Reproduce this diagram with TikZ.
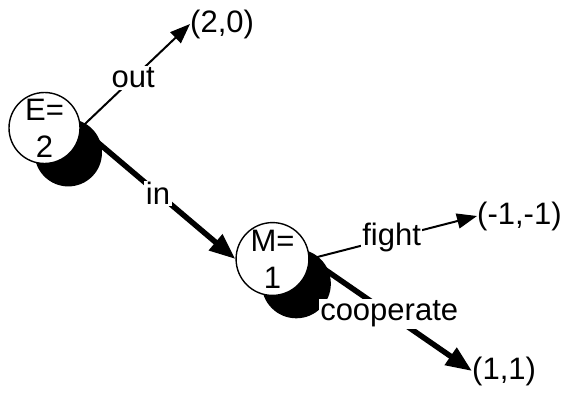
\documentclass[tikz,border=0pt]{standalone}
\usepackage{fontspec}
\setmainfont{Liberation Sans}
\usetikzlibrary{arrows.meta, positioning, shadows}
\pgfdeclarelayer{background}
\pgfsetlayers{background,main}
\tikzset{
  state/.style={circle, draw, line width=1.4pt, fill=white, minimum size=71pt, inner sep=0pt, align=center,
    drop shadow={shadow xshift=25pt, shadow yshift=-26pt, fill=black, opacity=1, shadow scale=0.95}},
  lbl/.style={fill=white, inner sep=1.5pt},
  payoff/.style={anchor=west, inner sep=0pt},
  thinmove/.style={line width=2pt, -{Triangle[length=20pt, width=15pt]}},
  thickmove/.style={line width=5.5pt, -{Triangle[length=26pt, width=20pt]}},
}

\begin{document}
\begin{tikzpicture}[x=1pt, y=-1pt, font=\fontsize{31}{37}\selectfont]
  \useasboundingbox (0,0) rectangle (567,393);
  % decision nodes
  \node[state] (E) at (44.5,128) {E=\\2};
  \node[state] (M) at (272.5,259) {M=\\1};
  % payoffs
  \node[payoff] (p20) at (190,24) {(2,0)};
  \node[payoff] (pmm) at (477,216) {(-1,-1)};
  \node[payoff] (p11) at (472,371) {(1,1)};
  % moves
  \begin{pgfonlayer}{background}
    \draw[thinmove] (E.east) -- (p20.west);
    \draw[thickmove] (E.east) -- (M.west);
    \draw[thinmove] (M.east) -- (pmm.west);
    \draw[thickmove] (M.east) -- (p11.west);
  \end{pgfonlayer}
  % move labels
  \path (E.east) -- (p20.west) node[lbl, pos=0.48] (out) {out};
  \path (E.east) -- (M.west) node[lbl, pos=0.5] (in) {in};
  \path (M.east) -- (pmm.west) node[lbl, pos=0.49] (fight) {fight};
  \path (M.east) -- (p11.west) node[lbl, pos=0.49] (coop) {cooperate};
\end{tikzpicture}
\end{document}
